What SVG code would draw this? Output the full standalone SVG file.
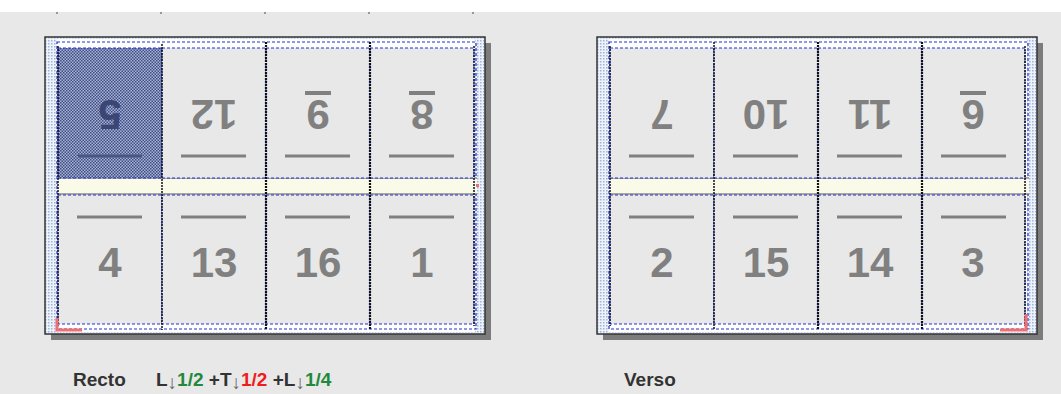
<svg xmlns="http://www.w3.org/2000/svg" width="1061" height="394" viewBox="0 0 1061 394">
<defs>
<pattern id="dots" width="3" height="3" patternUnits="userSpaceOnUse"><rect width="3" height="3" fill="#eef2fa"/><rect width="1.5" height="1.5" fill="#9fb4d8"/></pattern>
<pattern id="check" width="3" height="3" patternUnits="userSpaceOnUse"><rect width="3" height="3" fill="#a9b3cf"/><rect width="1.5" height="1.5" fill="#3d4d8a"/><rect x="1.5" y="1.5" width="1.5" height="1.5" fill="#3d4d8a"/></pattern>
<g id="sheet">
<rect x="6" y="6" width="440" height="297" fill="#7c7c7c"/>
<rect x="0" y="0" width="440" height="297" fill="url(#dots)" stroke="#333" stroke-width="1.5"/>
<rect x="12" y="2" width="418" height="293" fill="#fff"/>
<rect x="12" y="5" width="419" height="287" fill="none" stroke="#2030d0" stroke-width="1.2" stroke-dasharray="3 2"/>
<rect x="13" y="141" width="419" height="16" fill="#fafae8"/>
<line x1="13" y1="141" x2="432" y2="141" stroke="#555" stroke-width="1"/>
<line x1="13" y1="157" x2="432" y2="157" stroke="#555" stroke-width="1"/>
</g>
</defs>
<style>
.cell{fill:#e8e8e8;stroke:#2030d0;stroke-width:1;stroke-dasharray:3 2}
.num{font-family:"Liberation Sans",Arial,sans-serif;font-weight:bold;font-size:42px;fill:#808080;text-anchor:middle}
.n5{fill:#3c4674}
.bar{stroke:#808080;stroke-width:3}
.ul{fill:#808080}
.div{stroke:#111;stroke-width:2.2;stroke-dasharray:2 1}
.lbl{font-family:"Liberation Sans",Arial,sans-serif;font-weight:bold;font-size:19px;fill:#333}
.arr{font-weight:normal;fill:#666}
.g{fill:#1f8a3c}.r{fill:#ee1c1c}
</style>
<rect width="1061" height="394" fill="#e8e8e8"/>
<rect width="1061" height="12" fill="#fff"/>
<g fill="#999"><rect x="56" y="12" width="2" height="2"/><rect x="160" y="12" width="2" height="2"/><rect x="264" y="12" width="2" height="2"/><rect x="368" y="12" width="2" height="2"/><rect x="472" y="12" width="2" height="2"/></g>

<g id="recto">
<use href="#sheet" x="45" y="37"/>
<g id="p5"><rect x="58" y="48" width="104" height="130" fill="url(#check)" stroke="#2030d0" stroke-dasharray="3 2"/><line x1="78" y1="156" x2="142" y2="156" stroke="#4a5584" stroke-width="3"/><text class="num n5" x="110" y="130" transform="rotate(180 110 115)">5</text></g>
<g id="p12"><rect class="cell" x="162" y="48" width="104" height="130"/><line class="bar" x1="181" y1="156" x2="246" y2="156"/><text class="num" x="214" y="130" transform="rotate(180 214 115)">12</text></g>
<g id="p9"><rect class="cell" x="266" y="48" width="104" height="130"/><line class="bar" x1="285" y1="156" x2="350" y2="156"/><g transform="rotate(180 318 115)"><text class="num" x="318" y="130">9</text><rect class="ul" x="305" y="135" width="26" height="4"/></g></g>
<g id="p8"><rect class="cell" x="370" y="48" width="104" height="130"/><line class="bar" x1="389" y1="156" x2="454" y2="156"/><g transform="rotate(180 422 115)"><text class="num" x="422" y="130">8</text><rect class="ul" x="409" y="135" width="26" height="4"/></g></g>
<g id="p4"><rect class="cell" x="58" y="195" width="104" height="129"/><line class="bar" x1="77" y1="217" x2="142" y2="217"/><text class="num" x="110" y="277">4</text></g>
<g id="p13"><rect class="cell" x="162" y="195" width="104" height="129"/><line class="bar" x1="181" y1="217" x2="246" y2="217"/><text class="num" x="214" y="277">13</text></g>
<g id="p16"><rect class="cell" x="266" y="195" width="104" height="129"/><line class="bar" x1="285" y1="217" x2="350" y2="217"/><text class="num" x="318" y="277">16</text></g>
<g id="p1"><rect class="cell" x="370" y="195" width="104" height="129"/><line class="bar" x1="389" y1="217" x2="454" y2="217"/><text class="num" x="422" y="277">1</text></g>
<g class="div"><line x1="162" y1="44" x2="162" y2="330" stroke-width="1.5"/><line x1="266" y1="42" x2="266" y2="330"/><line x1="370" y1="42" x2="370" y2="330"/><line x1="474" y1="46" x2="474" y2="326" stroke-width="1.5"/><line x1="58" y1="46" x2="58" y2="326" stroke-width="1.5"/></g>
<path d="M57 318 V330 H82" fill="none" stroke="#f07070" stroke-width="3"/>
<rect x="476" y="184" width="3" height="3" fill="#f07070"/>
</g>

<g id="verso">
<use href="#sheet" x="597" y="37"/>
<g id="p7"><rect class="cell" x="610" y="48" width="104" height="130"/><line class="bar" x1="629" y1="156" x2="694" y2="156"/><text class="num" x="662" y="130" transform="rotate(180 662 115)">7</text></g>
<g id="p10"><rect class="cell" x="714" y="48" width="104" height="130"/><line class="bar" x1="733" y1="156" x2="798" y2="156"/><text class="num" x="766" y="130" transform="rotate(180 766 115)">10</text></g>
<g id="p11"><rect class="cell" x="818" y="48" width="104" height="130"/><line class="bar" x1="837" y1="156" x2="902" y2="156"/><text class="num" x="870" y="130" transform="rotate(180 870 115)">11</text></g>
<g id="p6"><rect class="cell" x="922" y="48" width="103" height="130"/><line class="bar" x1="941" y1="156" x2="1006" y2="156"/><g transform="rotate(180 973 115)"><text class="num" x="973" y="130">6</text><rect class="ul" x="960" y="135" width="26" height="4"/></g></g>
<g id="p2"><rect class="cell" x="610" y="195" width="104" height="129"/><line class="bar" x1="629" y1="217" x2="694" y2="217"/><text class="num" x="662" y="277">2</text></g>
<g id="p15"><rect class="cell" x="714" y="195" width="104" height="129"/><line class="bar" x1="733" y1="217" x2="798" y2="217"/><text class="num" x="766" y="277">15</text></g>
<g id="p14"><rect class="cell" x="818" y="195" width="104" height="129"/><line class="bar" x1="837" y1="217" x2="902" y2="217"/><text class="num" x="870" y="277">14</text></g>
<g id="p3"><rect class="cell" x="922" y="195" width="103" height="129"/><line class="bar" x1="941" y1="217" x2="1006" y2="217"/><text class="num" x="973" y="277">3</text></g>
<g class="div"><line x1="714" y1="42" x2="714" y2="330" stroke-width="1.5"/><line x1="818" y1="42" x2="818" y2="330"/><line x1="922" y1="42" x2="922" y2="330"/><line x1="610" y1="46" x2="610" y2="326" stroke-width="1.5"/><line x1="1025" y1="46" x2="1025" y2="326" stroke-width="1.5"/></g>
<path d="M1000 330 H1026 V314" fill="none" stroke="#f07070" stroke-width="3"/>
</g>

<g id="labels">
<text class="lbl" x="73" y="386">Recto</text>
<text class="lbl" x="156" y="386">L<tspan class="arr" dy="3">↓</tspan><tspan class="g" dy="-3">1/2</tspan> +T<tspan class="arr" dy="3">↓</tspan><tspan class="r" dy="-3">1/2</tspan> +L<tspan class="arr" dy="3">↓</tspan><tspan class="g" dy="-3">1/4</tspan></text>
<text class="lbl" x="624" y="386">Verso</text>
</g>
</svg>
